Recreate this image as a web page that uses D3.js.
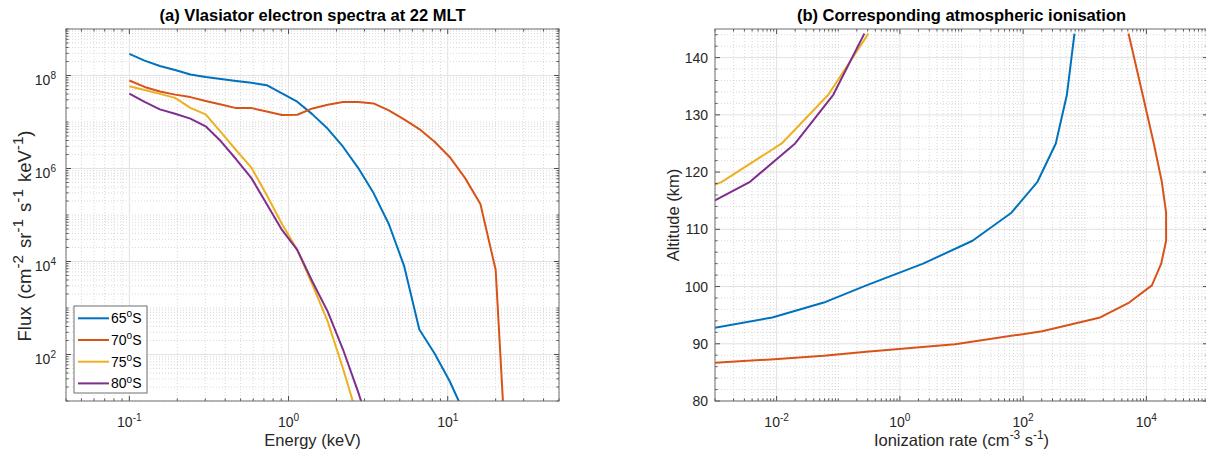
<!DOCTYPE html>
<html><head><meta charset="utf-8">
<script src="https://cdn.jsdelivr.net/npm/d3@7"></script>
<style>
body{margin:0;background:#fff;}
svg{display:block;font-family:"Liberation Sans", Arial, Helvetica, sans-serif;}
</style></head><body>
<svg id="c" width="1206" height="457"></svg>
<script>
// ---------------- DATA ----------------
const seriesLabels = ["65", "70", "75", "80"];          // latitude, degrees S
const seriesColors = ["#0072BD", "#D95319", "#EDB120", "#7E2F8E"];

// (a) electron spectra: energy grid (keV) and flux per latitude
const energy = [0.1, 0.1247, 0.1555, 0.1939, 0.2418, 0.3015, 0.376, 0.4689, 0.5847, 0.7292,
                0.9093, 1.134, 1.414, 1.763, 2.199, 2.742, 3.419, 4.264, 5.317, 6.631,
                8.269, 10.31, 12.86, 16.04, 20.0, 24.94];
const flux65 = [2.92e8, 2.09e8, 1.60e8, 1.31e8, 1.05e8, 9.29e7, 8.41e7, 7.62e7, 6.98e7, 6.19e7,
                4.11e7, 2.73e7, 1.46e7, 7.14e6, 2.94e6, 1.02e6, 2.96e5, 6.41e4, 8.07e3, 344,
                105, 26.3, 5.0];
const flux70 = [7.82e7, 5.68e7, 4.54e7, 3.88e7, 3.43e7, 2.84e7, 2.39e7, 1.99e7, 1.99e7, 1.69e7,
                1.41e7, 1.43e7, 1.96e7, 2.36e7, 2.68e7, 2.68e7, 2.51e7, 1.78e7, 1.14e7, 7.06e6,
                3.76e6, 1.75e6, 6.21e5, 1.72e5, 6.64e3, 0.0078];
const flux75 = [5.90e7, 4.89e7, 4.02e7, 3.30e7, 2.01e7, 1.46e7, 6.03e6, 2.47e6, 1.04e6, 2.69e5,
                6.41e4, 1.78e4, 3.16e3, 509, 50.1, 4.0];
const flux80 = [4.06e7, 2.70e7, 1.87e7, 1.50e7, 1.18e7, 8.07e6, 3.85e6, 1.58e6, 6.21e5, 1.72e5,
                4.78e4, 1.78e4, 3.66e3, 834, 128, 15.3, 1.5];

// (b) ionisation: altitude grid (km) and ionization rate per latitude
const altitude = [144.2, 133.5, 125.0, 118.3, 112.9, 108.0, 104.0, 100.2, 97.2, 94.6,
                  92.2, 89.9, 88.6, 87.9, 87.3, 86.7];
const rate65 = [681, 513, 339, 171, 64.6, 15.1, 2.38, 0.286, 0.0583, 0.00851, 0.00049];
const rate70 = [5130, 8710, 13200, 17800, 20900, 20900, 17400, 12300, 5250, 1780,
                204, 7.87, 0.286, 0.0583, 0.00912, 0.001];
const rate75 = [0.308, 0.069, 0.0121, 0.00129, 0.000083];
const rate80 = [0.265, 0.083, 0.020, 0.0037, 0.00042];

// ticks
const xTicksA = [0.1, 1, 10], xTickExpA = ["-1", "0", "1"];
const yTicksA = [1e2, 1e4, 1e6, 1e8], yTickExpA = ["2", "4", "6", "8"];
const xTicksB = [1e-2, 1, 1e2, 1e4], xTickExpB = ["-2", "0", "2", "4"];
const yTicksB = [80, 90, 100, 110, 120, 130, 140];

// ---------------- DRAW ----------------
const svg = d3.select("#c");
const AX = "#262626";

function richText(g, x, y, parts, o) {
  const t = g.append("text").attr("x", x).attr("y", y)
    .attr("font-size", o.size).attr("text-anchor", o.anchor || "start")
    .attr("fill", o.fill || AX);
  if (o.weight) t.attr("font-weight", o.weight);
  if (o.wordSpacing) t.attr("word-spacing", o.wordSpacing);
  if (o.rotate) t.attr("transform", `rotate(${o.rotate},${x},${y})`);
  let shifted = 0;
  parts.forEach(p => {
    const s = t.append("tspan").text(p[0]);
    const target = p[1] ? -o.size * 0.42 : 0;
    const dy = target - shifted;
    if (dy) s.attr("dy", dy);
    shifted = target;
    if (p[1]) s.attr("font-size", o.size * (o.supScale || 0.72));
  });
  return t;
}

function logMinors(domain, majors) {
  const out = [];
  const lo = Math.floor(Math.log10(domain[0])), hi = Math.ceil(Math.log10(domain[1]));
  for (let e = lo; e <= hi; e++) for (let k = 1; k <= 9; k++) {
    const v = k * Math.pow(10, e);
    if (v >= domain[0] * 0.9999 && v <= domain[1] * 1.0001 &&
        !majors.some(m => Math.abs(m - v) / v < 1e-6)) out.push(v);
  }
  return out;
}

function panel(id, x, y, xMaj, xMin, yMaj, yMin) {
  const [x0, x1] = x.range(), [y0, y1] = y.range(); // y0 bottom, y1 top
  const g = svg.append("g");
  g.append("rect").attr("x", x0).attr("y", y1).attr("width", x1 - x0).attr("height", y0 - y1).attr("fill", "#fff");
  g.selectAll(null).data(xMin).join("line")
    .attr("x1", d => x(d)).attr("x2", d => x(d)).attr("y1", y1).attr("y2", y0)
    .attr("stroke", "#c8c8c8").attr("stroke-width", 0.7).attr("stroke-dasharray", "1,2");
  g.selectAll(null).data(yMin).join("line")
    .attr("y1", d => y(d)).attr("y2", d => y(d)).attr("x1", x0).attr("x2", x1)
    .attr("stroke", "#c8c8c8").attr("stroke-width", 0.7).attr("stroke-dasharray", "1,2");
  g.selectAll(null).data(xMaj).join("line")
    .attr("x1", d => x(d)).attr("x2", d => x(d)).attr("y1", y1).attr("y2", y0)
    .attr("stroke", "#e2e2e2").attr("stroke-width", 1);
  g.selectAll(null).data(yMaj).join("line")
    .attr("y1", d => y(d)).attr("y2", d => y(d)).attr("x1", x0).attr("x2", x1)
    .attr("stroke", "#e2e2e2").attr("stroke-width", 1);
  svg.append("clipPath").attr("id", id).append("rect")
    .attr("x", x0).attr("y", y1).attr("width", x1 - x0).attr("height", y0 - y1);
  return g;
}

function frame(g, x, y, xMaj, xMin, yMaj, yMin) {
  const [x0, x1] = x.range(), [y0, y1] = y.range();
  const tk = (arr, len, horiz) => arr.forEach(v => {
    if (horiz) {
      const p = x(v);
      g.append("line").attr("x1", p).attr("x2", p).attr("y1", y0).attr("y2", y0 - len).attr("stroke", AX).attr("stroke-width", 0.8);
      g.append("line").attr("x1", p).attr("x2", p).attr("y1", y1).attr("y2", y1 + len).attr("stroke", AX).attr("stroke-width", 0.8);
    } else {
      const p = y(v);
      g.append("line").attr("y1", p).attr("y2", p).attr("x1", x0).attr("x2", x0 + len).attr("stroke", AX).attr("stroke-width", 0.8);
      g.append("line").attr("y1", p).attr("y2", p).attr("x1", x1).attr("x2", x1 - len).attr("stroke", AX).attr("stroke-width", 0.8);
    }
  });
  tk(xMaj, 5, true); tk(xMin, 2.5, true); tk(yMaj, 5, false); tk(yMin, 2.5, false);
  g.append("rect").attr("x", x0).attr("y", y1).attr("width", x1 - x0).attr("height", y0 - y1)
    .attr("fill", "none").attr("stroke", "#6e6e6e").attr("stroke-width", 1);
}

// ----- Panel (a) -----
const xA = d3.scaleLog().domain([0.04, 50]).range([66, 559]);
const yA = d3.scaleLog().domain([10, 1e9]).range([401, 29]);
const xMinA = logMinors(xA.domain(), xTicksA);
const yMinA = logMinors(yA.domain(), yTicksA);
panel("clipA", xA, yA, xTicksA, xMinA, yTicksA, yMinA);
const fluxSeries = [flux65, flux70, flux75, flux80];
const lineA = d3.line().x((d, i) => xA(energy[i])).y(d => yA(d));
const gLA = svg.append("g").attr("clip-path", "url(#clipA)");
fluxSeries.forEach((s, i) => {
  gLA.append("path").datum(s).attr("d", lineA).attr("fill", "none")
    .attr("stroke", seriesColors[i]).attr("stroke-width", 2).attr("stroke-linejoin", "round");
});
frame(svg.append("g"), xA, yA, xTicksA, xMinA, yTicksA, yMinA);

xTicksA.forEach((v, i) => richText(svg, xA(v), 427, [["10"], [xTickExpA[i], 1]], {size: 14, anchor: "middle"}));
yTicksA.forEach((v, i) => richText(svg, 56, yA(v) + 9, [["10"], [yTickExpA[i], 1]], {size: 14, anchor: "end"}));
richText(svg, 312.5, 446, [["Energy (keV)"]], {size: 16.5, anchor: "middle"});
richText(svg, 31, 236, [["Flux (cm"], ["-2", 1], [" sr"], ["-1", 1], [" s"], ["-1", 1], [" keV"], ["-1", 1], [")"]],
  {size: 18.5, anchor: "middle", rotate: -90, supScale: 0.82, wordSpacing: 2});
richText(svg, 312.5, 21, [["(a) Vlasiator electron spectra at 22 MLT"]], {size: 16.5, anchor: "middle", weight: "bold", fill: "#000"});

// legend
const lg = svg.append("g");
lg.append("rect").attr("x", 74).attr("y", 306).attr("width", 73).attr("height", 87)
  .attr("fill", "#fff").attr("stroke", "#6e6e6e").attr("stroke-width", 1);
seriesLabels.forEach((lab, i) => {
  const cy = 318.3 + i * 21.7;
  lg.append("line").attr("x1", 78).attr("x2", 109).attr("y1", cy).attr("y2", cy)
    .attr("stroke", seriesColors[i]).attr("stroke-width", 2);
  richText(lg, 111, cy + 5, [[lab], ["o", 1], ["S"]], {size: 14, fill: "#000"});
});

// ----- Panel (b) -----
const xB = d3.scaleLog().domain([1e-3, 1e5]).range([715, 1208]);
const yB = d3.scaleLinear().domain([80, 145]).range([401, 29]);
const xMinB = logMinors(xB.domain(), xTicksB);
const yMinB = d3.range(82, 145, 2).filter(v => v % 10 !== 0);
panel("clipB", xB, yB, xTicksB, xMinB, yTicksB, yMinB);
const rateSeries = [rate65, rate70, rate75, rate80];
const lineB = d3.line().x(d => xB(d)).y((d, i) => yB(altitude[i]));
const gLB = svg.append("g").attr("clip-path", "url(#clipB)");
rateSeries.forEach((s, i) => {
  gLB.append("path").datum(s).attr("d", lineB).attr("fill", "none")
    .attr("stroke", seriesColors[i]).attr("stroke-width", 2).attr("stroke-linejoin", "round");
});
frame(svg.append("g"), xB, yB, xTicksB, xMinB, yTicksB, yMinB);

xTicksB.forEach((v, i) => richText(svg, xB(v), 427, [["10"], [xTickExpB[i], 1]], {size: 14, anchor: "middle"}));
yTicksB.forEach(v => richText(svg, 708, yB(v) + 5, [[String(v)]], {size: 14, anchor: "end"}));
richText(svg, 961.5, 446, [["Ionization rate (cm"], ["-3", 1], [" s"], ["-1", 1], [")"]], {size: 16.5, anchor: "middle"});
richText(svg, 679, 215, [["Altitude (km)"]], {size: 16.5, anchor: "middle", rotate: -90});
richText(svg, 961.5, 21, [["(b) Corresponding atmospheric ionisation"]], {size: 16.5, anchor: "middle", weight: "bold", fill: "#000"});
</script>
</body></html>
